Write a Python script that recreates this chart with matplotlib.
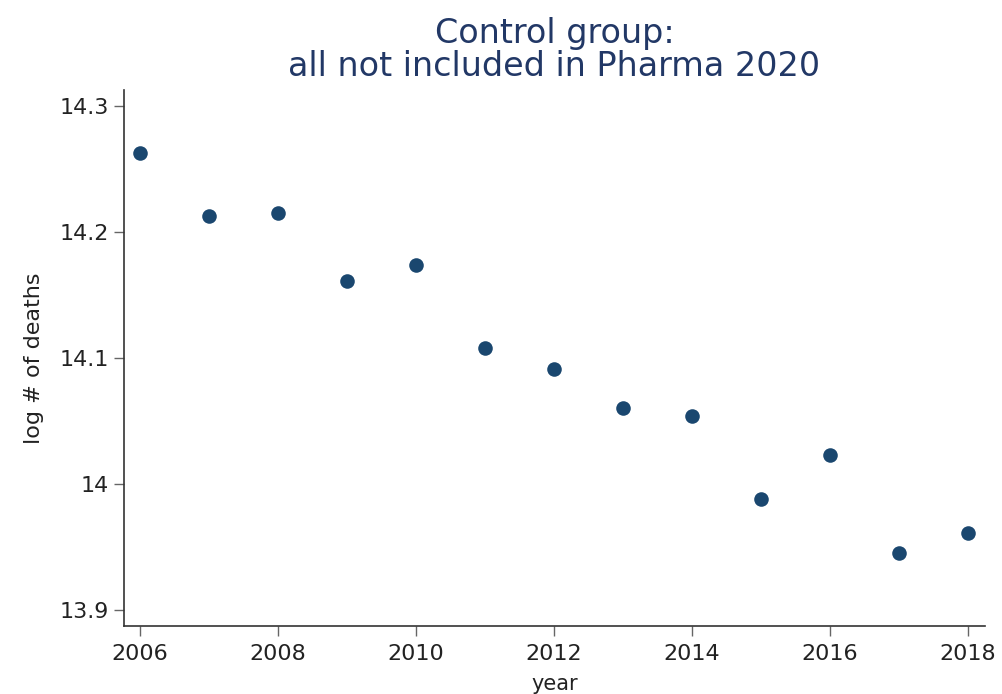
import matplotlib
matplotlib.use("Agg")
import matplotlib.pyplot as plt

years = [2006, 2007, 2008, 2009, 2010, 2011, 2012, 2013, 2014, 2015, 2016, 2017, 2018]
log_deaths = [14.263, 14.213, 14.215, 14.161, 14.174, 14.108, 14.091,
              14.060, 14.054, 13.988, 14.023, 13.945, 13.961]
xticks = [2006, 2008, 2010, 2012, 2014, 2016, 2018]
yticks = [13.9, 14.0, 14.1, 14.2, 14.3]
ytick_labels = ["13.9", "14", "14.1", "14.2", "14.3"]

plt.rcParams["font.family"] = ["DejaVu Sans"]

fig = plt.figure(figsize=(10.02, 6.94), dpi=100, facecolor="white")
ax = fig.add_axes([0.1238, 0.098, 0.8592, 0.772])

ax.scatter(years, log_deaths, s=110, color="#1a476f", zorder=3, linewidths=0)

ax.set_xlim(2005.768, 2018.246)
ax.set_ylim(13.887, 14.3127)
ax.set_xticks(xticks)
ax.set_yticks(yticks)
ax.set_yticklabels(ytick_labels)

for s in ["top", "right"]:
    ax.spines[s].set_visible(False)
for s in ["left", "bottom"]:
    ax.spines[s].set_color("#333333")
    ax.spines[s].set_linewidth(1.2)
ax.tick_params(axis="both", direction="out", length=7, width=1.0, color="#666666",
               labelsize=16, labelcolor="#222222")
ax.tick_params(axis="x", pad=6)
ax.tick_params(axis="y", pad=4)

ax.set_ylabel("log # of deaths", fontsize=16, color="#222222", labelpad=11)
ax.set_xlabel("year", fontsize=15, color="#222222", labelpad=7)
ax.set_title("Control group:\nall not included in Pharma 2020", fontsize=24,
             color="#223866", pad=10, linespacing=1.02)

fig.savefig("out.png", dpi=100, facecolor="white")
